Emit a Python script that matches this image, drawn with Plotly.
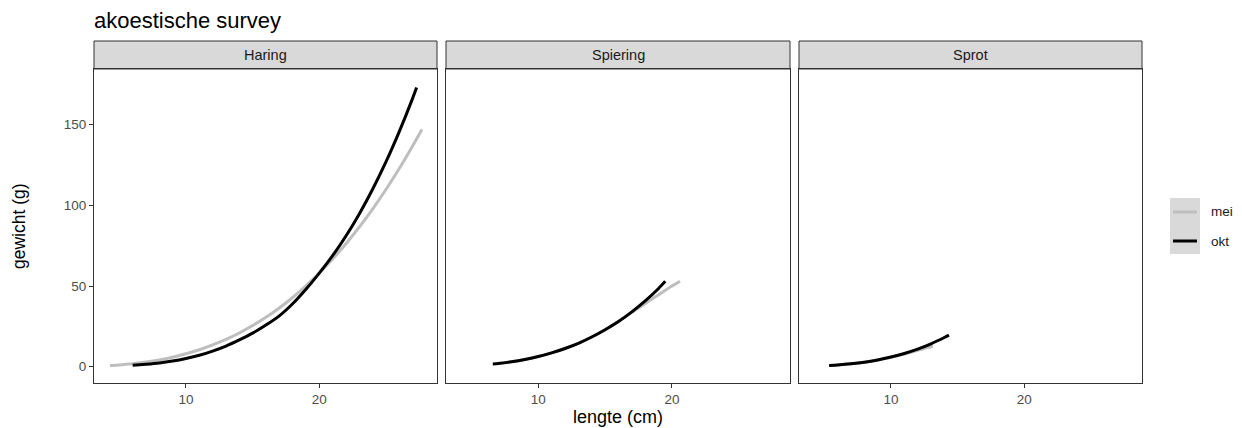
import plotly.graph_objects as go

W, H = 1242, 428

species = ["Haring", "Spiering", "Sprot"]

# Haring
har_mei_x = [4.3, 5, 6, 7, 8, 9, 10, 11, 12, 13, 14, 15, 16, 17, 18, 19, 20, 21, 22, 23, 24, 25, 26, 27, 27.7]
har_mei_y = [0.7, 1.1, 1.9, 2.9, 4.2, 5.9, 8.0, 10.5, 13.5, 16.9, 20.9, 25.5, 30.6, 36.4, 42.9, 50.1, 58.0, 66.7, 76.2, 86.5, 97.7, 109.8, 122.8, 136.8, 147.0]
har_okt_x = [6.0, 7, 8, 9, 10, 11, 12, 13, 14, 15, 16, 17, 18, 19, 20, 21, 22, 23, 24, 25, 26, 27, 27.3]
har_okt_y = [0.85, 1.5, 2.3, 3.5, 5.1, 7.1, 9.7, 12.8, 16.6, 20.8, 25.8, 31.5, 39.0, 48.0, 58.0, 68.8, 81.0, 94.7, 110.0, 126.9, 145.7, 166.3, 173.0]

# Spiering
spi_mei_x = [7, 8, 9, 10, 11, 12, 13, 14, 15, 16, 17, 18, 19, 20, 20.6]
spi_mei_y = [2.0, 3.1, 4.5, 6.3, 8.6, 11.3, 14.5, 18.4, 22.9, 28.0, 33.8, 39.2, 44.6, 50.0, 52.9]
spi_okt_x = [6.6, 7, 8, 9, 10, 11, 12, 13, 14, 15, 16, 17, 18, 19, 19.5]
spi_okt_y = [1.7, 2.0, 3.1, 4.5, 6.3, 8.6, 11.3, 14.5, 18.4, 22.9, 28.0, 34.0, 40.8, 48.5, 52.9]

# Sprot
spr_mei_x = [5.4, 6, 7, 8, 9, 10, 11, 12, 12.5, 13.15]
spr_mei_y = [0.8, 1.1, 1.8, 2.8, 4.1, 5.9, 7.9, 10.1, 11.3, 12.6]
spr_okt_x = [5.36, 6, 7, 8, 9, 10, 11, 12, 13, 14, 14.35]
spr_okt_y = [0.8, 1.1, 1.8, 2.8, 4.2, 6.0, 8.2, 10.9, 14.2, 18.1, 19.6]

series = {
    "Haring": [(har_mei_x, har_mei_y), (har_okt_x, har_okt_y)],
    "Spiering": [(spi_mei_x, spi_mei_y), (spi_okt_x, spi_okt_y)],
    "Sprot": [(spr_mei_x, spr_mei_y), (spr_okt_x, spr_okt_y)],
}
month_names = ["mei", "okt"]
month_colors = ["#BEBEBE", "#000000"]

x_ticks = [10, 20]
y_ticks = [0, 50, 100, 150]
x_range = [3.1, 28.83]
y_range = [-10.1, 184.5]

FONT = "Liberation Sans, Arial, sans-serif"

def px(x):
    return x / W

def py(y):
    return 1 - y / H

panel_x = [(94, 437), (446, 790), (799, 1142)]
panel_top, panel_bot = 69, 383
strip_top = 41

fig = go.Figure()

for i, sp in enumerate(species):
    ax = "" if i == 0 else str(i + 1)
    for (xs, ys), name, col in zip(series[sp], month_names, month_colors):
        fig.add_trace(go.Scatter(
            x=xs, y=ys, mode="lines", name=name,
            line=dict(color=col, width=3, shape="spline", smoothing=0.6),
            xaxis="x" + ax, yaxis="y" + ax, showlegend=False,
        ))

layout = dict(
    width=W, height=H, autosize=False,
    margin=dict(l=0, r=0, t=0, b=0),
    paper_bgcolor="white", plot_bgcolor="white",
    font=dict(family=FONT, color="#1A1A1A"),
    showlegend=False,
)

shapes = []
annotations = []
for i, sp in enumerate(species):
    ax = "" if i == 0 else str(i + 1)
    x0, x1 = panel_x[i]
    layout["xaxis" + ax] = dict(
        domain=[px(x0), px(x1)], range=x_range, anchor="y" + ax,
        tickvals=x_ticks, ticktext=[str(t) for t in x_ticks],
        ticks="outside", ticklen=4, tickcolor="#333333", tickwidth=1,
        tickfont=dict(size=13.5, color="#4D4D4D", family=FONT),
        showline=True, linecolor="#333333", linewidth=1, mirror=True,
        showgrid=False, zeroline=False, fixedrange=True,
    )
    layout["yaxis" + ax] = dict(
        domain=[py(panel_bot), py(panel_top)], range=y_range, anchor="x" + ax,
        tickvals=y_ticks, ticktext=[str(t) for t in y_ticks],
        ticks="outside" if i == 0 else "", ticklen=4, tickcolor="#333333", tickwidth=1,
        showticklabels=(i == 0),
        tickfont=dict(size=13.5, color="#4D4D4D", family=FONT),
        showline=True, linecolor="#333333", linewidth=1, mirror=True,
        showgrid=False, zeroline=False, fixedrange=True,
    )
    shapes.append(dict(
        type="rect", xref="paper", yref="paper",
        x0=px(x0), x1=px(x1), y0=py(panel_top), y1=py(strip_top),
        fillcolor="#D9D9D9", line=dict(color="#333333", width=1), layer="below",
    ))
    annotations.append(dict(
        text=sp, xref="paper", yref="paper",
        x=px((x0 + x1) / 2), y=py((strip_top + panel_top) / 2),
        xanchor="center", yanchor="middle", showarrow=False,
        font=dict(size=14.5, color="#1A1A1A", family=FONT),
    ))

# title and axis titles
annotations.append(dict(text="akoestische survey", xref="paper", yref="paper",
                        x=px(92), y=py(20), xanchor="left", yanchor="middle",
                        showarrow=False, font=dict(size=22, color="#000000", family=FONT)))
annotations.append(dict(text="lengte (cm)", xref="paper", yref="paper",
                        x=px(618), y=py(417), xanchor="center", yanchor="middle",
                        showarrow=False, font=dict(size=18, color="#000000", family=FONT)))
annotations.append(dict(text="gewicht (g)", xref="paper", yref="paper",
                        x=px(19), y=py(226), xanchor="center", yanchor="middle",
                        textangle=-90, showarrow=False,
                        font=dict(size=17.5, color="#000000", family=FONT)))

# legend (manual)
shapes.append(dict(type="rect", xref="paper", yref="paper",
                   x0=px(1170), x1=px(1200), y0=py(254), y1=py(198),
                   fillcolor="#D9D9D9", line=dict(width=0), layer="below"))
for name, col, yy in zip(month_names, month_colors, [212, 241]):
    shapes.append(dict(type="line", xref="paper", yref="paper",
                       x0=px(1173), x1=px(1197), y0=py(yy), y1=py(yy),
                       line=dict(color=col, width=3)))
    annotations.append(dict(text=name, xref="paper", yref="paper",
                            x=px(1209), y=py(yy), xanchor="left", yanchor="middle",
                            showarrow=False, font=dict(size=13.5, color="#1A1A1A", family=FONT)))

layout["shapes"] = shapes
layout["annotations"] = annotations
fig.update_layout(**layout)

fig.write_html(
    "out.html",
    config={"displayModeBar": False},
    post_script="document.body.style.margin='0';document.body.style.padding='0';document.body.style.overflow='hidden';",
)
